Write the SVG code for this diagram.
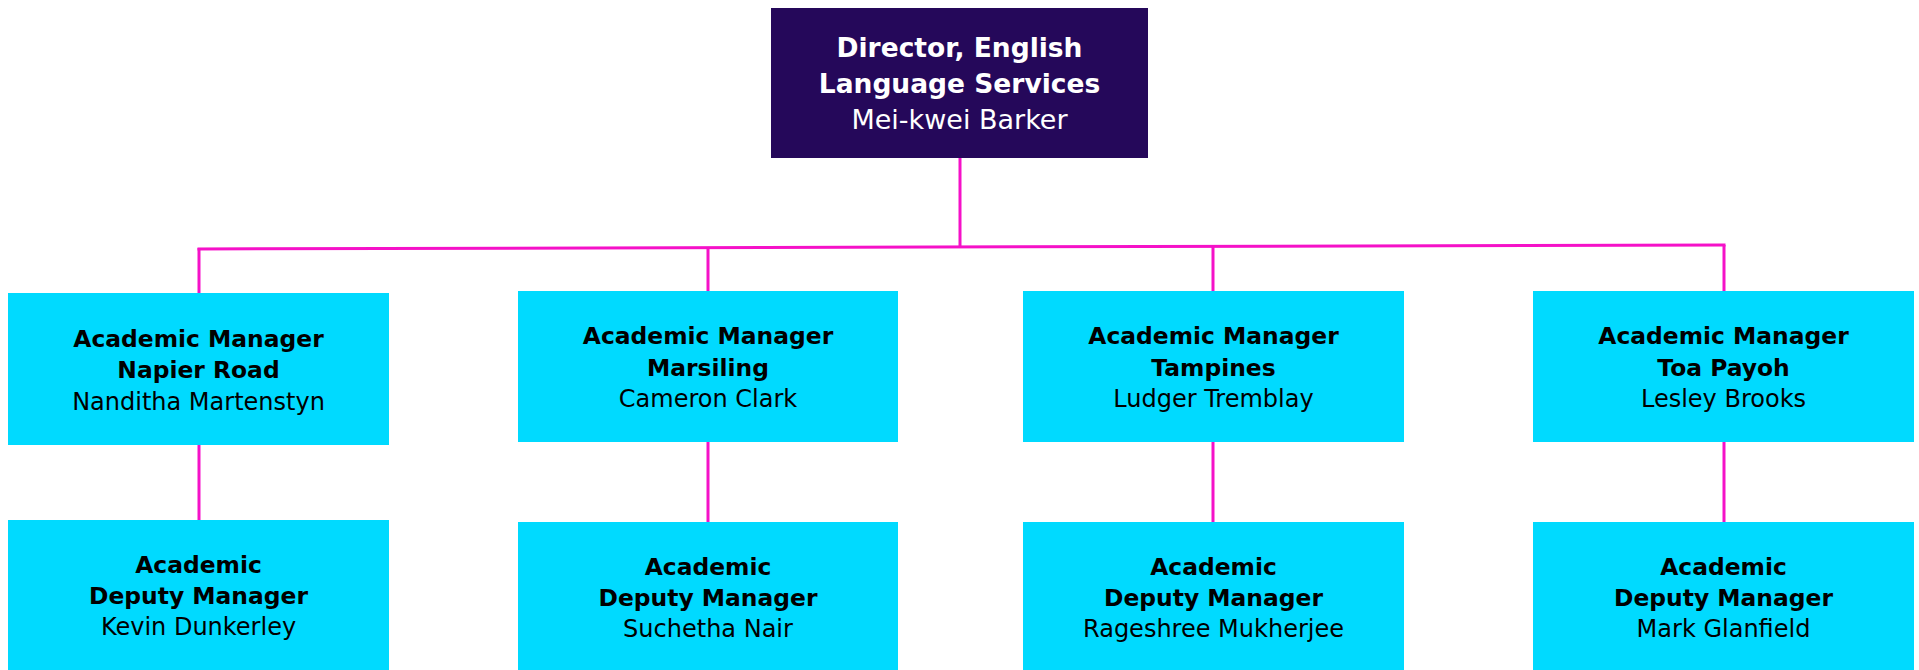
<svg xmlns="http://www.w3.org/2000/svg" width="1919" height="670" viewBox="0 0 1919 670">
<style>
.bg{fill:#ffffff}
.dir{fill:#25085A}
.box{fill:#00DAFF}
.t{font-family:"DejaVu Sans","Liberation Sans",sans-serif;text-anchor:middle;font-size:24px;fill:#000}
.t.b{font-weight:bold;font-size:23.4px}
.dt{font-family:"DejaVu Sans","Liberation Sans",sans-serif;text-anchor:middle;font-size:27px;fill:#ffffff}
.dt.b{font-weight:bold;font-size:26.5px}
.c{stroke:#F511C8;stroke-width:3;fill:none}
</style>
<rect class="bg" x="0" y="0" width="1919" height="670"/>
<g id="connectors">
<line class="c" x1="960" y1="158" x2="960" y2="247"/>
<line class="c" x1="197.5" y1="249" x2="1725.5" y2="245"/>
<line class="c" x1="199" y1="248" x2="199" y2="293"/>
<line class="c" x1="708" y1="247" x2="708" y2="291"/>
<line class="c" x1="1213" y1="246" x2="1213" y2="291"/>
<line class="c" x1="1724" y1="245" x2="1724" y2="291"/>
<line class="c" x1="199" y1="445" x2="199" y2="520"/>
<line class="c" x1="708" y1="442" x2="708" y2="522"/>
<line class="c" x1="1213" y1="442" x2="1213" y2="522"/>
<line class="c" x1="1724" y1="442" x2="1724" y2="522"/>
</g>
<g id="director">
<rect class="dir" x="771" y="8" width="377" height="150"/>
<text class="dt b" x="959.5" y="57">Director, English</text>
<text class="dt b" x="959.5" y="93">Language Services</text>
<text class="dt" x="959.5" y="129">Mei-kwei Barker</text>
</g>
<g id="am-napier">
<rect class="box" x="8" y="293" width="381" height="152"/>
<text class="t b" x="198.5" y="347">Academic Manager</text>
<text class="t b" x="198.5" y="378">Napier Road</text>
<text class="t" x="198.5" y="410">Nanditha Martenstyn</text>
</g>
<g id="am-marsiling">
<rect class="box" x="518" y="291" width="380" height="151"/>
<text class="t b" x="708" y="344">Academic Manager</text>
<text class="t b" x="708" y="376">Marsiling</text>
<text class="t" x="708" y="407">Cameron Clark</text>
</g>
<g id="am-tampines">
<rect class="box" x="1023" y="291" width="381" height="151"/>
<text class="t b" x="1213.5" y="344">Academic Manager</text>
<text class="t b" x="1213.5" y="376">Tampines</text>
<text class="t" x="1213.5" y="407">Ludger Tremblay</text>
</g>
<g id="am-toapayoh">
<rect class="box" x="1533" y="291" width="381" height="151"/>
<text class="t b" x="1723.5" y="344">Academic Manager</text>
<text class="t b" x="1723.5" y="376">Toa Payoh</text>
<text class="t" x="1723.5" y="407">Lesley Brooks</text>
</g>
<g id="adm-napier">
<rect class="box" x="8" y="520" width="381" height="150"/>
<text class="t b" x="198.5" y="573">Academic</text>
<text class="t b" x="198.5" y="604">Deputy Manager</text>
<text class="t" x="198.5" y="635">Kevin Dunkerley</text>
</g>
<g id="adm-marsiling">
<rect class="box" x="518" y="522" width="380" height="148"/>
<text class="t b" x="708" y="575">Academic</text>
<text class="t b" x="708" y="606">Deputy Manager</text>
<text class="t" x="708" y="637">Suchetha Nair</text>
</g>
<g id="adm-tampines">
<rect class="box" x="1023" y="522" width="381" height="148"/>
<text class="t b" x="1213.5" y="575">Academic</text>
<text class="t b" x="1213.5" y="606">Deputy Manager</text>
<text class="t" x="1213.5" y="637">Rageshree Mukherjee</text>
</g>
<g id="adm-toapayoh">
<rect class="box" x="1533" y="522" width="381" height="148"/>
<text class="t b" x="1723.5" y="575">Academic</text>
<text class="t b" x="1723.5" y="606">Deputy Manager</text>
<text class="t" x="1723.5" y="637">Mark Glanfield</text>
</g>
</svg>
